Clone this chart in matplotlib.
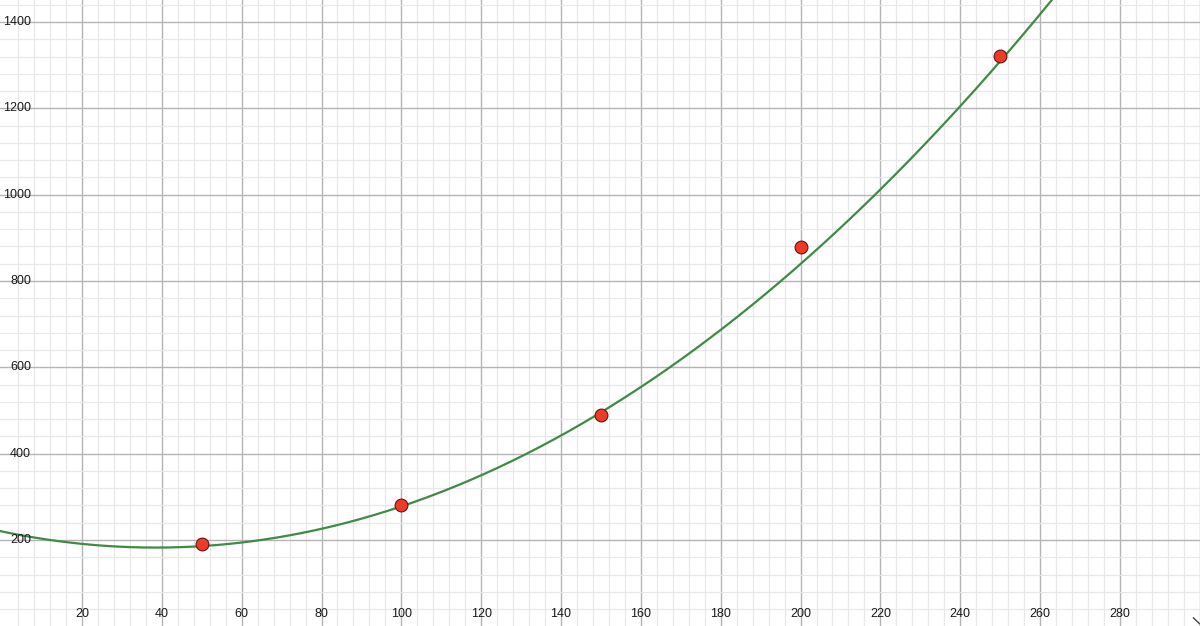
import matplotlib

matplotlib.use("Agg")
import matplotlib.pyplot as plt
import matplotlib.transforms as mtransforms
import numpy as np

# Puntos medidos y etiquetas de los ejes
x_points = [50, 100, 150, 200, 250]
y_points = [190, 280, 490, 878, 1322]
x_labels = [20, 40, 60, 80, 100, 120, 140, 160, 180, 200, 220, 240, 260, 280]
y_labels = [200, 400, 600, 800, 1000, 1200, 1400]

# coeficientes de la curva de ajuste (y = a x^2 + b x + c)
curve_coef = [0.02517, -1.935, 219.6]

CURVE_COLOR = "#3f8a45"
POINT_COLOR = "#f03a27"
MAJOR_GRID = "#b4b4b4"
MINOR_GRID = "#e8e8e8"

plt.rcParams["font.family"] = ["Liberation Sans", "DejaVu Sans"]

fig = plt.figure(figsize=(12, 6.26), dpi=100)
ax = fig.add_axes([0, 0, 1, 1])
ax.set_xlim(-0.54, 300.06)
ax.set_ylim(0.7, 1451)

# cuadrícula estilo GeoGebra: mayor cada 20/200, menor cada 4/40
ax.set_xticks(np.arange(20, 301, 20))
ax.set_xticks(np.arange(4, 301, 4), minor=True)
ax.set_yticks(np.arange(200, 1451, 200))
ax.set_yticks(np.arange(40, 1451, 40), minor=True)
ax.grid(which="minor", color=MINOR_GRID, linewidth=0.9, zorder=0)
ax.grid(which="major", color=MAJOR_GRID, linewidth=1.0, zorder=1)
ax.tick_params(which="both", length=0, labelbottom=False, labelleft=False)
for spine in ax.spines.values():
    spine.set_visible(False)

xs = np.linspace(-1, 301, 600)
ax.plot(xs, np.polyval(curve_coef, xs), color=CURVE_COLOR, linewidth=1.6, zorder=3)

ax.scatter(x_points, y_points, s=85, color=POINT_COLOR, edgecolor="#5a1a12",
           linewidth=0.8, zorder=4)

# etiquetas pegadas al borde, como cuando los ejes quedan fuera de la vista
tx = mtransforms.blended_transform_factory(ax.transData, ax.transAxes)
for v in x_labels:
    ax.text(v, 0.019, str(v), transform=tx, ha="center", va="center",
            fontsize=9, color="#1a1a1a", zorder=5)
ty = mtransforms.blended_transform_factory(ax.transAxes, ax.transData)
for v in y_labels:
    ax.text(0.0258, v, str(v), transform=ty, ha="right", va="center",
            fontsize=9, color="#1a1a1a", zorder=5)

# punta de flecha del eje x asomando en la esquina
ax.plot([0.9945, 1.0], [0.013, 0.003], transform=ax.transAxes,
        color="#444444", linewidth=1.0, clip_on=False)

fig.savefig("out.png", dpi=100)
